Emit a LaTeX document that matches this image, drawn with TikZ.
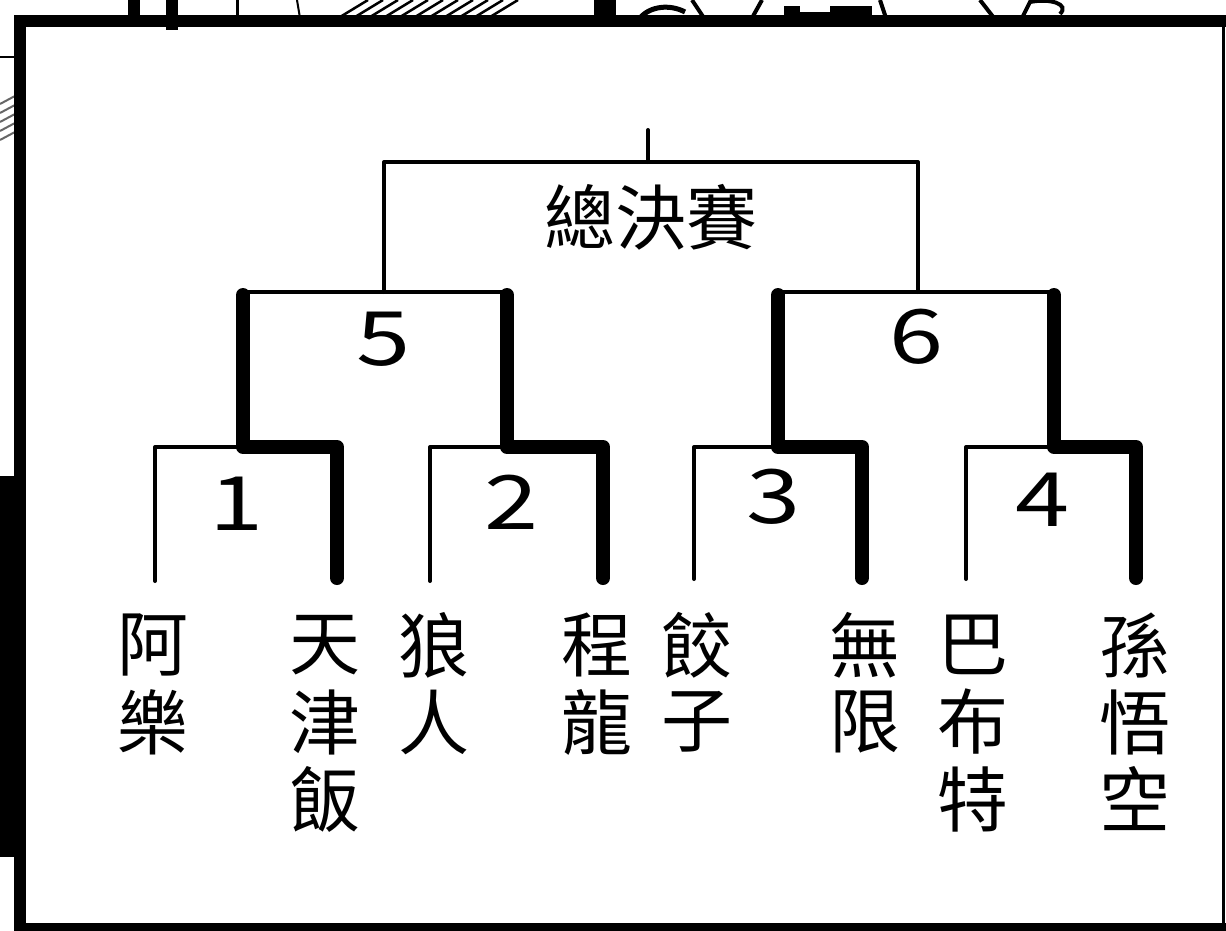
\documentclass[tikz,border=0pt]{standalone}
\usepackage{fontspec}
\usepackage{graphicx}
\newfontfamily\cjk{Noto Sans CJK TC}
\begin{document}
\begin{tikzpicture}[x=1pt,y=-1pt,
  bthin/.style={line width=4pt, line cap=round, line join=round},
  bthick/.style={line width=14pt, line cap=round, line join=round},
  pname/.style={font=\cjk\fontsize{71}{71}\selectfont, inner sep=0pt},
  num/.style={font=\cjk\fontsize{75}{75}\selectfont, inner sep=0pt},
  frameline/.style={line width=12pt, line join=miter},
  frag/.style={line width=3pt}]
\fill[white] (0,0) rectangle (1226,931);
\useasboundingbox (0,0) rectangle (1226,931);

% ---- fragments of the neighbouring panels ----
\fill (0,476) rectangle (20,857);
\draw[line width=2pt] (0,57) -- (16,57);
\foreach \i in {0,...,4} \draw[line width=2pt,black!60] (0,{104+9*\i}) -- (15,{96+9*\i});
\fill (128,0) rectangle (140,18);
\fill (166,0) rectangle (178,30);
\draw[frag] (237,0) -- (237,18);
\draw[line width=2pt] (297,0) -- (300,18);
\foreach \i in {0,...,10} \draw[line width=2.5pt] ({340+15*\i},17) -- ({368+15*\i},0);
\fill (594,0) rectangle (616,18);
\draw[line width=5pt] (640,18) .. controls (650,6) and (670,4) .. (685,12);
\draw[line width=4pt] (692,0) -- (704,18);
\draw[line width=4pt] (752,18) -- (762,0);
\fill (784,6) rectangle (872,18);
\fill[white] (800,6) rectangle (830,12);
\draw[line width=4pt] (880,0) -- (886,18);
\draw[line width=4pt] (980,0) -- (994,18);
\draw[line width=4pt] (1022,18) -- (1030,2) .. controls (1050,-2) and (1070,4) .. (1060,14);

% ---- panel frame ----
\draw[frameline] (20,940) -- (20,21) -- (1230,21);
\draw[line width=3pt] (1223,21) -- (1223,931);
\draw[line width=9pt] (14,927) -- (1230,927);

% ---- bracket points ----
\coordinate (top) at (648,130);
\coordinate (fL) at (384,162);
\coordinate (fR) at (918,162);
\coordinate (c5) at (384,292);
\coordinate (c6) at (918,292);
\coordinate (s5L) at (243,295);
\coordinate (s5R) at (507,295);
\coordinate (s6L) at (778,295);
\coordinate (s6R) at (1054,295);
\coordinate (m1) at (243,447);
\coordinate (m2) at (507,447);
\coordinate (m3) at (778,447);
\coordinate (m4) at (1054,447);
\coordinate (l1) at (155,581);
\coordinate (r1) at (337,578);
\coordinate (l2) at (430,581);
\coordinate (r2) at (603,578);
\coordinate (l3) at (694,579);
\coordinate (r3) at (862,578);
\coordinate (l4) at (966,579);
\coordinate (r4) at (1136,578);

% ---- final ----
\draw[bthin] (top) -- (648,162);
\draw[bthin] (c5) -- (fL) -- (fR) -- (c6);
\node[pname] (fin) at (651,217) {總決賽};

% ---- semifinals ----
\draw[bthin] (243,292) -- (507,292);
\draw[bthin] (778,292) -- (1054,292);
\node[num] (d5) at (384,339) {\scalebox{1.3}[1]{5}};
\node[num] (d6) at (917,337) {\scalebox{1.3}[1]{6}};

% ---- first round, losers (thin) ----
\draw[bthin] (l1) |- (m1);
\draw[bthin] (l2) |- (m2);
\draw[bthin] (l3) |- (m3);
\draw[bthin] (l4) |- (m4);

% ---- winners (thick) ----
\draw[bthick] (s5L) -- (m1) -| (r1);
\draw[bthick] (s5R) -- (m2) -| (r2);
\draw[bthick] (s6L) -- (m3) -| (r3);
\draw[bthick] (s6R) -- (m4) -| (r4);

\node[num] (d1) at (237,504) {\scalebox{1.3}[1]{1}};
\node[num] (d2) at (512,502) {\scalebox{1.3}[1]{2}};
\node[num] (d3) at (774,497) {\scalebox{1.3}[1]{3}};
\node[num] (d4) at (1043,500) {\scalebox{1.3}[1]{4}};

% ---- names ----
\foreach \x/\n/\chars in {153/a/{阿,樂}, 325/b/{天,津,飯}, 434/c/{狼,人}, 597/d/{程,龍},
    697/e/{餃,子}, 865/f/{無,限}, 973/g/{巴,布,特}, 1135/h/{孫,悟,空}}
  \foreach \c [count=\i] in \chars
    \node[pname] (\n\i) at (\x,{645+77*(\i-1)}) {\c};
\end{tikzpicture}
\end{document}
